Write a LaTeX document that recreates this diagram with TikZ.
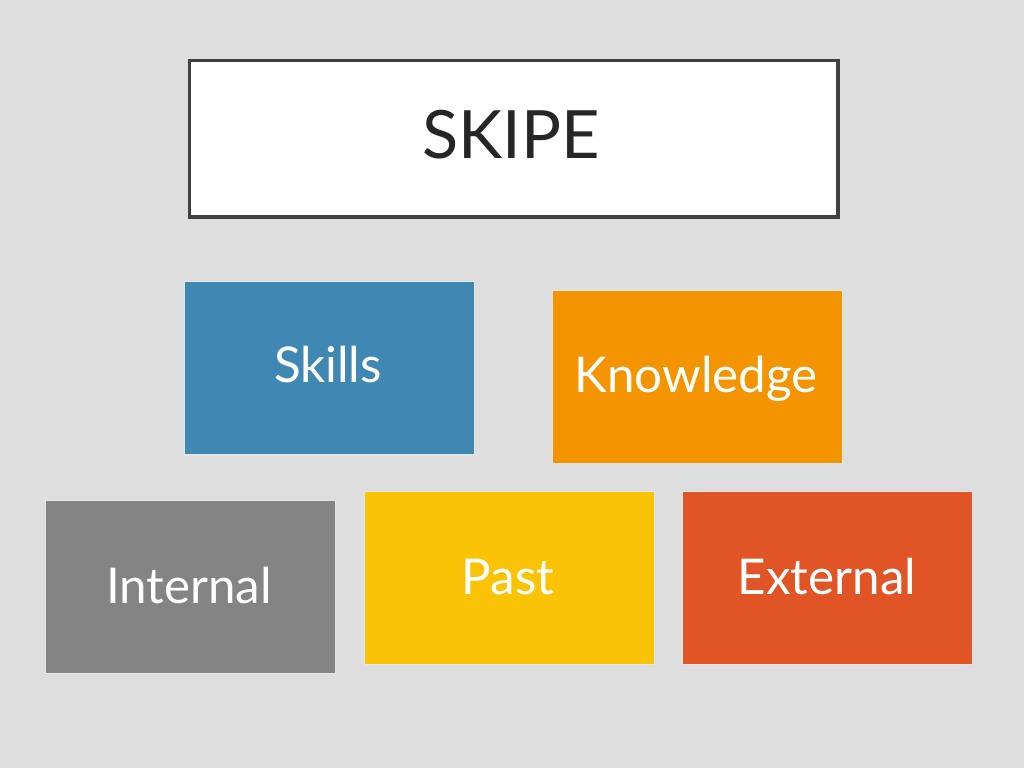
\documentclass[tikz,border=0pt]{standalone}
\usepackage{fontspec}
\setmainfont{Lato}
\definecolor{bg}{HTML}{DEDEDE}
\definecolor{titleborder}{HTML}{404040}
\definecolor{titletext}{HTML}{262626}
\definecolor{cskills}{HTML}{3F88B4}
\definecolor{cknow}{HTML}{F39400}
\definecolor{cinternal}{HTML}{848484}
\definecolor{cpast}{HTML}{FBC306}
\definecolor{cexternal}{HTML}{E05426}
\begin{document}
\begin{tikzpicture}[x=0.75pt,y=-0.75pt,
  boxstyle/.style={draw=white!90!black, line width=0.9pt, minimum width=217.5pt, minimum height=130pt, inner sep=0pt, anchor=north west},
  labelstyle/.style={text=white, font=\fontsize{37}{40}\selectfont, anchor=base, inner sep=0pt}]
  \fill[bg] (0,0) rectangle (1024,768);
  \useasboundingbox (0,0) rectangle (1024,768);
  % title
  \node[draw=titleborder, line width=2.6pt, fill=white, minimum width=486.5pt, minimum height=117.5pt, inner sep=0pt, anchor=north west] (titlebox) at (187.5,58.5) {};
  \node[text=titletext, font=\fontsize{50}{54}\selectfont, anchor=base, inner sep=0pt] (title) at (511,158) {SKIPE};
  % boxes
  \node[boxstyle, fill=cskills] (skills) at (183.5,281) {};
  \node[labelstyle] (skillst) at (328,382) {Skills};
  \node[boxstyle, fill=cknow] (know) at (551.5,289.5) {};
  \node[labelstyle] (knowt) at (696,392) {Knowledge};
  \node[boxstyle, fill=cinternal] (internal) at (44.5,499.5) {};
  \node[labelstyle] (internalt) at (189,603) {Internal};
  \node[boxstyle, fill=cpast] (past) at (363.5,490.5) {};
  \node[labelstyle] (pastt) at (508,594) {Past};
  \node[boxstyle, fill=cexternal] (external) at (682,490.5) {};
  \node[labelstyle] (externalt) at (827,594) {External};
\end{tikzpicture}
\end{document}
